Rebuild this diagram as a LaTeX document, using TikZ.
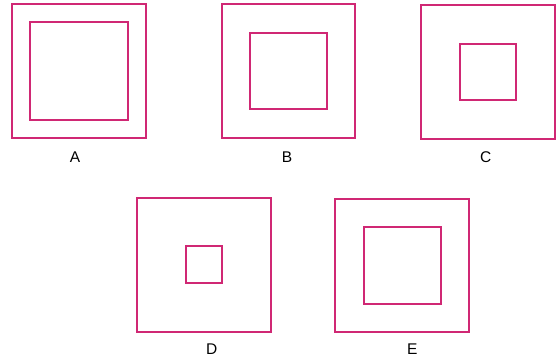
\documentclass[tikz,border=0pt]{standalone}
\usepackage{fontspec}
\setmainfont{Liberation Sans}
\definecolor{squarepink}{RGB}{208,40,116}
\tikzset{
  sq/.style={draw=squarepink,line width=2pt},
  lbl/.style={font=\fontsize{15.5}{15.5}\selectfont,inner sep=0pt}
}
\begin{document}
\begin{tikzpicture}[x=1pt,y=-1pt]
  \useasboundingbox (0,0) rectangle (560,360);
  \draw [sq] (12.3,4) rectangle (146,137.5);
  \draw [sq] (30.3,21.7) rectangle (127.7,120);
  \draw [sq] (222.3,4) rectangle (355.3,137.7);
  \draw [sq] (250,32.7) rectangle (326.7,109.3);
  \draw [sq] (420.7,5) rectangle (554.7,139);
  \draw [sq] (460,43.7) rectangle (516.3,100);
  \draw [sq] (136.7,197.7) rectangle (271,332.3);
  \draw [sq] (186,246.3) rectangle (222.3,283.3);
  \draw [sq] (334.6,199) rectangle (469,332.3);
  \draw [sq] (363.7,227) rectangle (441,303.7);
  \node [lbl] (A) at (75,157) {A};
  \node [lbl] (B) at (287,157) {B};
  \node [lbl] (C) at (485.7,157) {C};
  \node [lbl] (D) at (211.7,349) {D};
  \node [lbl] (E) at (412.3,349) {E};
\end{tikzpicture}
\end{document}
